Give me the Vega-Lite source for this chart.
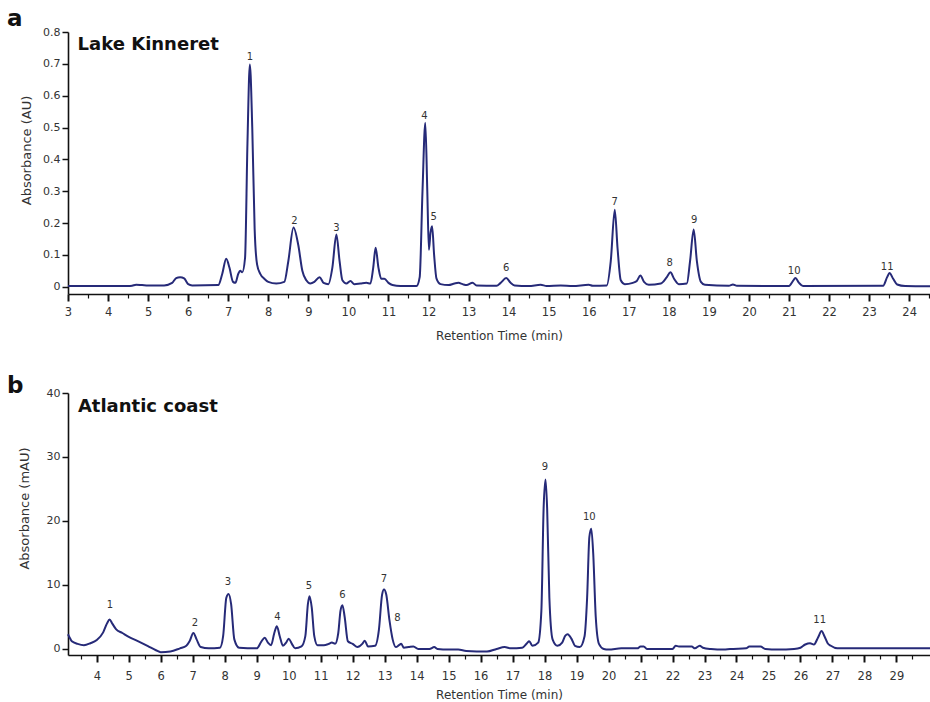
{
  "$schema": "https://vega.github.io/schema/vega-lite/v6.json",
  "background": "white",
  "padding": {"left": 7, "top": 8, "right": 0, "bottom": 0},
  "spacing": 33,
  "config": {
    "font": "DejaVu Sans",
    "view": {"stroke": null},
    "axis": {"grid": false, "domainColor": "#111", "domainWidth": 1.6, "tickColor": "#111", "labelColor": "#333", "titleColor": "#333", "titleFontWeight": "normal", "labelOverlap": false}
  },
  "datasets": {
    "kinneret": [
      {"t":3.0,"a":0.002},{"t":4.5,"a":0.002},{"t":4.6,"a":0.003},{"t":4.7,"a":0.006},{"t":4.85,"a":0.005},{"t":5.0,"a":0.004},{"t":5.4,"a":0.004},{"t":5.6,"a":0.012},{"t":5.7,"a":0.027},{"t":5.8,"a":0.03},{"t":5.9,"a":0.026},{"t":6.0,"a":0.008},{"t":6.1,"a":0.004},{"t":6.75,"a":0.005},{"t":6.85,"a":0.04},{"t":6.95,"a":0.088},{"t":7.03,"a":0.06},{"t":7.12,"a":0.015},{"t":7.18,"a":0.012},{"t":7.25,"a":0.04},{"t":7.3,"a":0.05},{"t":7.35,"a":0.045},{"t":7.42,"a":0.09},{"t":7.48,"a":0.45},{"t":7.54,"a":0.698},{"t":7.6,"a":0.5},{"t":7.66,"a":0.18},{"t":7.72,"a":0.07},{"t":7.8,"a":0.04},{"t":7.9,"a":0.025},{"t":8.0,"a":0.015},{"t":8.2,"a":0.01},{"t":8.4,"a":0.015},{"t":8.5,"a":0.08},{"t":8.63,"a":0.186},{"t":8.75,"a":0.13},{"t":8.85,"a":0.05},{"t":8.95,"a":0.02},{"t":9.05,"a":0.01},{"t":9.15,"a":0.015},{"t":9.28,"a":0.03},{"t":9.38,"a":0.012},{"t":9.5,"a":0.008},{"t":9.6,"a":0.06},{"t":9.7,"a":0.164},{"t":9.78,"a":0.08},{"t":9.85,"a":0.02},{"t":9.95,"a":0.01},{"t":10.05,"a":0.018},{"t":10.15,"a":0.008},{"t":10.3,"a":0.01},{"t":10.45,"a":0.012},{"t":10.55,"a":0.01},{"t":10.62,"a":0.06},{"t":10.68,"a":0.122},{"t":10.75,"a":0.06},{"t":10.82,"a":0.025},{"t":10.9,"a":0.025},{"t":11.0,"a":0.012},{"t":11.1,"a":0.005},{"t":11.3,"a":0.002},{"t":11.7,"a":0.002},{"t":11.78,"a":0.03},{"t":11.85,"a":0.3},{"t":11.92,"a":0.515},{"t":11.97,"a":0.3},{"t":12.01,"a":0.116},{"t":12.05,"a":0.17},{"t":12.09,"a":0.19},{"t":12.14,"a":0.1},{"t":12.2,"a":0.025},{"t":12.3,"a":0.008},{"t":12.5,"a":0.005},{"t":12.65,"a":0.01},{"t":12.75,"a":0.012},{"t":12.85,"a":0.008},{"t":12.95,"a":0.005},{"t":13.1,"a":0.012},{"t":13.2,"a":0.004},{"t":13.7,"a":0.003},{"t":13.8,"a":0.012},{"t":13.94,"a":0.027},{"t":14.05,"a":0.012},{"t":14.15,"a":0.004},{"t":14.5,"a":0.002},{"t":14.8,"a":0.006},{"t":14.95,"a":0.002},{"t":15.3,"a":0.004},{"t":15.6,"a":0.002},{"t":16.0,"a":0.006},{"t":16.1,"a":0.003},{"t":16.45,"a":0.004},{"t":16.55,"a":0.08},{"t":16.65,"a":0.242},{"t":16.72,"a":0.12},{"t":16.8,"a":0.02},{"t":16.9,"a":0.008},{"t":17.1,"a":0.012},{"t":17.2,"a":0.018},{"t":17.29,"a":0.035},{"t":17.38,"a":0.015},{"t":17.5,"a":0.006},{"t":17.8,"a":0.01},{"t":17.95,"a":0.03},{"t":18.04,"a":0.045},{"t":18.13,"a":0.025},{"t":18.25,"a":0.008},{"t":18.45,"a":0.01},{"t":18.53,"a":0.08},{"t":18.62,"a":0.18},{"t":18.7,"a":0.08},{"t":18.8,"a":0.015},{"t":18.9,"a":0.006},{"t":19.5,"a":0.003},{"t":19.6,"a":0.007},{"t":19.7,"a":0.003},{"t":21.0,"a":0.002},{"t":21.1,"a":0.018},{"t":21.16,"a":0.027},{"t":21.25,"a":0.012},{"t":21.35,"a":0.002},{"t":23.35,"a":0.003},{"t":23.45,"a":0.03},{"t":23.51,"a":0.043},{"t":23.6,"a":0.025},{"t":23.7,"a":0.007},{"t":23.9,"a":0.002},{"t":24.52,"a":0.001}
    ],
    "kinneretPeaks": [
      {"t":7.54,"a":0.723,"label":"1"},{"t":8.65,"a":0.207,"label":"2"},{"t":9.7,"a":0.184,"label":"3"},{"t":11.9,"a":0.535,"label":"4"},{"t":12.13,"a":0.22,"label":"5"},{"t":13.94,"a":0.058,"label":"6"},{"t":16.65,"a":0.267,"label":"7"},{"t":18.02,"a":0.074,"label":"8"},{"t":18.63,"a":0.21,"label":"9"},{"t":21.13,"a":0.05,"label":"10"},{"t":23.45,"a":0.063,"label":"11"}
    ],
    "kinneretName": [{"t":3.24,"a":0.743,"label":"Lake Kinneret"}],
    "atlantic": [
      {"t":3.1,"a":2.3},{"t":3.15,"a":1.8},{"t":3.22,"a":1.2},{"t":3.4,"a":0.8},{"t":3.6,"a":0.6},{"t":3.8,"a":0.9},{"t":4.0,"a":1.4},{"t":4.2,"a":2.6},{"t":4.32,"a":4.0},{"t":4.4,"a":4.6},{"t":4.48,"a":4.0},{"t":4.6,"a":3.1},{"t":4.8,"a":2.5},{"t":5.0,"a":1.9},{"t":5.3,"a":1.2},{"t":5.6,"a":0.45},{"t":5.85,"a":-0.2},{"t":6.0,"a":-0.5},{"t":6.3,"a":-0.4},{"t":6.6,"a":0.1},{"t":6.8,"a":0.5},{"t":6.9,"a":1.2},{"t":7.02,"a":2.5},{"t":7.12,"a":1.5},{"t":7.25,"a":0.3},{"t":7.5,"a":0.1},{"t":7.85,"a":0.2},{"t":7.95,"a":2.0},{"t":8.05,"a":8.0},{"t":8.12,"a":8.6},{"t":8.2,"a":7.0},{"t":8.3,"a":1.5},{"t":8.45,"a":0.2},{"t":9.0,"a":0.1},{"t":9.15,"a":1.2},{"t":9.25,"a":1.75},{"t":9.35,"a":1.0},{"t":9.45,"a":0.6},{"t":9.55,"a":2.5},{"t":9.63,"a":3.56},{"t":9.72,"a":2.0},{"t":9.82,"a":0.5},{"t":9.92,"a":1.0},{"t":10.0,"a":1.6},{"t":10.1,"a":0.8},{"t":10.2,"a":0.1},{"t":10.4,"a":0.4},{"t":10.52,"a":2.0},{"t":10.6,"a":7.0},{"t":10.65,"a":8.25},{"t":10.72,"a":6.5},{"t":10.8,"a":2.0},{"t":10.9,"a":0.6},{"t":11.1,"a":0.6},{"t":11.25,"a":0.8},{"t":11.35,"a":1.0},{"t":11.45,"a":0.8},{"t":11.55,"a":2.5},{"t":11.62,"a":6.0},{"t":11.68,"a":6.85},{"t":11.75,"a":5.0},{"t":11.85,"a":1.2},{"t":12.0,"a":0.8},{"t":12.15,"a":0.3},{"t":12.3,"a":0.8},{"t":12.38,"a":1.3},{"t":12.48,"a":0.4},{"t":12.7,"a":0.5},{"t":12.82,"a":3.0},{"t":12.92,"a":8.5},{"t":12.98,"a":9.3},{"t":13.05,"a":8.5},{"t":13.15,"a":4.5},{"t":13.25,"a":1.5},{"t":13.35,"a":0.3},{"t":13.45,"a":0.6},{"t":13.52,"a":0.8},{"t":13.6,"a":0.2},{"t":13.75,"a":0.3},{"t":13.9,"a":0.4},{"t":14.05,"a":0.0},{"t":14.4,"a":0.0},{"t":14.55,"a":0.3},{"t":14.65,"a":0.0},{"t":15.0,"a":-0.1},{"t":15.3,"a":-0.1},{"t":15.55,"a":-0.3},{"t":16.2,"a":-0.4},{"t":16.5,"a":0.0},{"t":16.75,"a":0.3},{"t":16.95,"a":0.1},{"t":17.3,"a":0.2},{"t":17.45,"a":0.9},{"t":17.52,"a":1.2},{"t":17.62,"a":0.5},{"t":17.8,"a":1.0},{"t":17.9,"a":6.0},{"t":17.97,"a":22.0},{"t":18.03,"a":26.5},{"t":18.08,"a":22.0},{"t":18.15,"a":8.0},{"t":18.25,"a":1.5},{"t":18.4,"a":0.5},{"t":18.55,"a":1.0},{"t":18.65,"a":2.1},{"t":18.72,"a":2.3},{"t":18.85,"a":1.5},{"t":18.95,"a":0.5},{"t":19.1,"a":0.3},{"t":19.25,"a":2.0},{"t":19.33,"a":8.0},{"t":19.4,"a":17.5},{"t":19.46,"a":18.8},{"t":19.52,"a":15.0},{"t":19.6,"a":5.0},{"t":19.7,"a":0.8},{"t":19.85,"a":0.0},{"t":20.0,"a":-0.1},{"t":20.4,"a":0.1},{"t":20.9,"a":0.1},{"t":21.0,"a":0.4},{"t":21.1,"a":0.4},{"t":21.2,"a":0.0},{"t":22.0,"a":0.0},{"t":22.1,"a":0.5},{"t":22.2,"a":0.4},{"t":22.6,"a":0.4},{"t":22.7,"a":0.1},{"t":22.85,"a":0.5},{"t":22.95,"a":0.2},{"t":23.2,"a":0.0},{"t":23.6,"a":-0.1},{"t":23.8,"a":0.0},{"t":24.3,"a":0.1},{"t":24.4,"a":0.4},{"t":24.75,"a":0.4},{"t":24.9,"a":0.0},{"t":25.3,"a":-0.1},{"t":25.8,"a":0.0},{"t":26.0,"a":0.2},{"t":26.15,"a":0.7},{"t":26.3,"a":0.9},{"t":26.42,"a":0.7},{"t":26.55,"a":1.8},{"t":26.66,"a":2.8},{"t":26.75,"a":2.0},{"t":26.85,"a":0.9},{"t":26.95,"a":0.5},{"t":27.15,"a":0.1},{"t":30.05,"a":0.1}
    ],
    "atlanticPeaks": [
      {"t":4.41,"a":6.84,"label":"1"},{"t":7.07,"a":4.09,"label":"2"},{"t":8.1,"a":10.5,"label":"3"},{"t":9.65,"a":5.03,"label":"4"},{"t":10.63,"a":9.81,"label":"5"},{"t":11.68,"a":8.36,"label":"6"},{"t":12.98,"a":10.86,"label":"7"},{"t":13.4,"a":4.88,"label":"8"},{"t":18.01,"a":28.4,"label":"9"},{"t":19.4,"a":20.6,"label":"10"},{"t":26.6,"a":4.6,"label":"11"}
    ],
    "atlanticName": [{"t":3.41,"a":37.0,"label":"Atlantic coast"}]
  },
  "vconcat": [
    {
      "title": {"text": "a", "anchor": "start", "frame": "group", "dx": -61, "fontSize": 23, "fontWeight": "bold", "color": "#111", "offset": -5},
      "width": 862,
      "height": 262,
      "encoding": {
        "x": {"field": "t", "type": "quantitative", "scale": {"domain": [3, 24.52], "nice": false, "zero": false},
          "axis": {"values": [3,3.5,4,4.5,5,5.5,6,6.5,7,7.5,8,8.5,9,9.5,10,10.5,11,11.5,12,12.5,13,13.5,14,14.5,15,15.5,16,16.5,17,17.5,18,18.5,19,19.5,20,20.5,21,21.5,22,22.5,23,23.5,24,24.5],
            "labelExpr": "datum.value % 1 === 0 ? format(datum.value, 'd') : ''",
            "labelOverlap": false, "labelFlush": false, "labelFontSize": 11.5, "labelPadding": 5,
            "tickSize": {"condition": {"test": "datum.value % 1 === 0", "value": 7}, "value": 4},
            "tickWidth": {"condition": {"test": "datum.value % 1 === 0", "value": 2}, "value": 1.2},
            "title": "Retention Time (min)", "titleFontSize": 12, "titlePadding": 13}},
        "y": {"field": "a", "type": "quantitative", "scale": {"domain": [-0.023, 0.8], "nice": false, "zero": false},
          "axis": {"values": [0,0.1,0.2,0.3,0.4,0.5,0.6,0.7,0.8], "format": ".1~f", "labelOverlap": false, "tickSize": 6, "tickWidth": 1.5, "labelFontSize": 11, "labelPadding": 2,
            "title": "Absorbance (AU)", "titleFontSize": 13, "titlePadding": 9, "titleY": 118}}
      },
      "layer": [
        {
          "data": {"name": "kinneret"},
          "mark": {"type": "line", "color": "#262a78", "strokeWidth": 2, "interpolate": "monotone"}
        },
        {
          "data": {"name": "kinneretPeaks"},
          "mark": {"type": "text", "fontSize": 10, "color": "#333", "baseline": "middle", "align": "center"},
          "encoding": {"text": {"field": "label"}}
        },
        {
          "data": {"name": "kinneretName"},
          "mark": {"type": "text", "fontSize": 18, "fontWeight": "bold", "color": "#111", "align": "left", "baseline": "alphabetic"},
          "encoding": {"text": {"field": "label"}}
        }
      ]
    },
    {
      "title": {"text": "b", "anchor": "start", "frame": "group", "dx": -61, "fontSize": 23, "fontWeight": "bold", "color": "#111", "offset": -11},
      "width": 862,
      "height": 262,
      "encoding": {
        "x": {"field": "t", "type": "quantitative", "scale": {"domain": [3.1, 30.05], "nice": false, "zero": false},
          "axis": {"values": [3.5,4,4.5,5,5.5,6,6.5,7,7.5,8,8.5,9,9.5,10,10.5,11,11.5,12,12.5,13,13.5,14,14.5,15,15.5,16,16.5,17,17.5,18,18.5,19,19.5,20,20.5,21,21.5,22,22.5,23,23.5,24,24.5,25,25.5,26,26.5,27,27.5,28,28.5,29,29.5],
            "labelExpr": "datum.value % 1 === 0 ? format(datum.value, 'd') : ''",
            "labelOverlap": false, "labelFlush": false, "labelFontSize": 11.5, "labelPadding": 8,
            "tickSize": {"condition": {"test": "datum.value % 1 === 0", "value": 7}, "value": 4},
            "tickWidth": {"condition": {"test": "datum.value % 1 === 0", "value": 2}, "value": 1.2},
            "title": "Retention Time (min)", "titleFontSize": 12, "titlePadding": 8}},
        "y": {"field": "a", "type": "quantitative", "scale": {"domain": [-0.94, 40], "nice": false, "zero": false},
          "axis": {"values": [0,10,20,30,40], "labelOverlap": false, "tickSize": 6, "tickWidth": 1.5, "labelFontSize": 11, "labelPadding": 2,
            "title": "Absorbance (mAU)", "titleFontSize": 13, "titlePadding": 15, "titleY": 115}}
      },
      "layer": [
        {
          "data": {"name": "atlantic"},
          "mark": {"type": "line", "color": "#262a78", "strokeWidth": 2, "interpolate": "monotone"}
        },
        {
          "data": {"name": "atlanticPeaks"},
          "mark": {"type": "text", "fontSize": 10, "color": "#333", "baseline": "middle", "align": "center"},
          "encoding": {"text": {"field": "label"}}
        },
        {
          "data": {"name": "atlanticName"},
          "mark": {"type": "text", "fontSize": 18, "fontWeight": "bold", "color": "#111", "align": "left", "baseline": "alphabetic"},
          "encoding": {"text": {"field": "label"}}
        }
      ]
    }
  ]
}
